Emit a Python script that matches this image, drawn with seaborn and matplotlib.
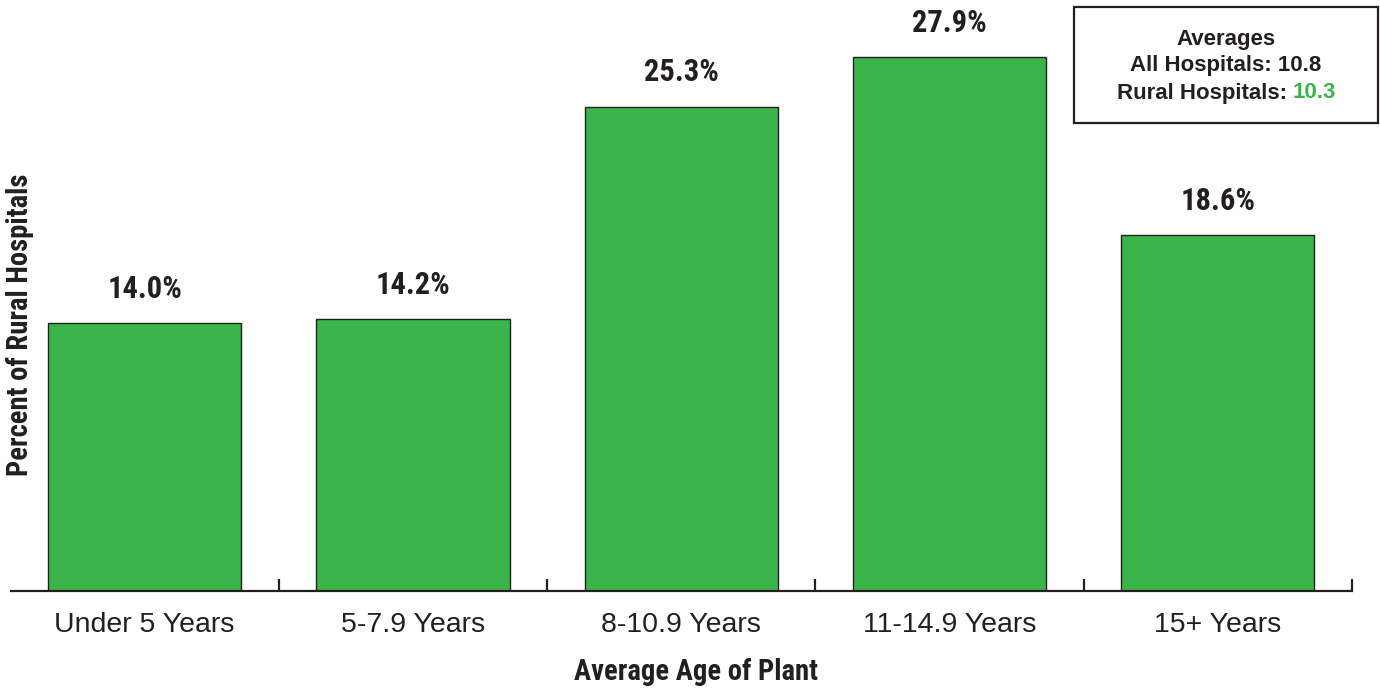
import matplotlib
matplotlib.use("Agg")
import matplotlib.pyplot as plt
from matplotlib import font_manager
from matplotlib.ticker import FixedLocator
import seaborn as sns

categories = ["Under 5 Years", "5-7.9 Years", "8-10.9 Years", "11-14.9 Years", "15+ Years"]
percents = [14.0, 14.2, 25.3, 27.9, 18.6]
avg_all = 10.8
avg_rural = 10.3

GREEN = "#3BB54A"
INK = "#231F20"

# condensed bold face for the labels, if one is installed
names = {f.name for f in font_manager.fontManager.ttflist}
narrow = None
for cand in ["Liberation Sans Narrow", "Roboto Condensed", "Open Sans Condensed",
             "DejaVu Sans Condensed"]:
    if cand in names:
        narrow = cand
        break
if narrow is None:
    narrow = "Liberation Sans"
    lab_size, val_size = 17.5, 19
else:
    lab_size, val_size = 20.6, 22

sns.set_theme(style="white")
plt.rcParams["font.family"] = ["Liberation Sans", "DejaVu Sans"]
plt.rcParams["text.color"] = INK

fig = plt.figure(figsize=(13.8, 6.92), dpi=100)
ax = fig.add_axes([10.5 / 1380, 101 / 692, (1352 - 10.5) / 1380, 591 / 692])

sns.barplot(x=categories, y=percents, color=GREEN, width=0.72, saturation=1,
            edgecolor=INK, linewidth=1.0, ax=ax)

ax.set_xlim(-0.5, 4.5)
ax.set_ylim(0, 30.88)
for side in ["left", "right", "top"]:
    ax.spines[side].set_visible(False)
ax.spines["bottom"].set_color(INK)
ax.spines["bottom"].set_linewidth(1.6)
ax.set_yticks([])

ax.xaxis.set_minor_locator(FixedLocator([0.5, 1.5, 2.5, 3.5, 4.5]))
ax.tick_params(axis="x", which="major", length=0, pad=15, labelsize=20.5, labelcolor=INK)
ax.tick_params(axis="x", which="minor", direction="in", length=9, width=1.6,
               color=INK, bottom=True)

for i, v in enumerate(percents):
    ax.annotate(f"{v:.1f}%", xy=(i, v), xytext=(0, 14), textcoords="offset points",
                ha="center", va="bottom", fontsize=val_size, fontweight="bold",
                family=narrow, color=INK)

ax.set_xlabel("")
fig.text(696 / 1380, 1 - 672 / 692, "Average Age of Plant", ha="center", va="center",
         fontsize=lab_size, fontweight="bold", family=narrow, color=INK)
fig.text(20 / 1380, 1 - 325 / 692, "Percent of Rural Hospitals", rotation=90,
         ha="center", va="center", fontsize=lab_size, fontweight="bold", family=narrow,
         color=INK)

# averages box
box = plt.Rectangle((1074 / 1380, 1 - 123 / 692), 304 / 1380, 116 / 692,
                    transform=fig.transFigure, fill=False, edgecolor=INK, linewidth=1.6)
fig.patches.append(box)
cx = 1226 / 1380
fig.text(cx, 1 - 39 / 692, "Averages", ha="center", va="center", fontsize=16,
         fontweight="bold", color=INK)
fig.text(cx, 1 - 66 / 692, f"All Hospitals: {avg_all}", ha="center", va="center",
         fontsize=16, fontweight="bold", color=INK)
t1 = fig.text(1117 / 1380, 1 - 93 / 692, "Rural Hospitals:", ha="left", va="center",
              fontsize=16, fontweight="bold", color=INK)
fig.canvas.draw()
bb = t1.get_window_extent()
fig.text((bb.x1 + 6) / 1380, 1 - 93 / 692, f"{avg_rural}", ha="left", va="center",
         fontsize=16, fontweight="bold", color=GREEN)

fig.savefig("out.png", dpi=100)
